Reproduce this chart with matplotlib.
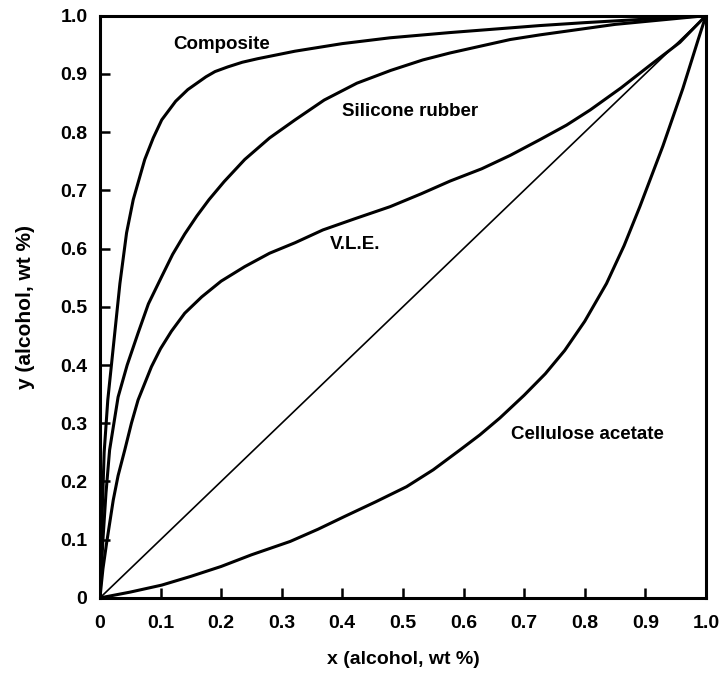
import numpy as np
import matplotlib
matplotlib.use("Agg")
import matplotlib.pyplot as plt

plt.rcParams['font.family'] = ['Liberation Sans', 'DejaVu Sans']
plt.rcParams['font.weight'] = 'bold'

# curves (x, y in weight fraction)
composite_x = [0, 0.003, 0.007, 0.013, 0.022, 0.033, 0.044, 0.055, 0.074, 0.088, 0.102, 0.125,
               0.145, 0.175, 0.19, 0.211, 0.235, 0.26, 0.322, 0.4, 0.479, 0.578, 0.677, 0.726,
               0.8, 0.9, 1.0]
composite_y = [0, 0.12, 0.25, 0.34, 0.43, 0.54, 0.627, 0.684, 0.753, 0.79, 0.821, 0.853,
               0.873, 0.895, 0.904, 0.912, 0.92, 0.926, 0.939, 0.952, 0.962, 0.971, 0.979, 0.983,
               0.988, 0.994, 1.0]

silicone_x = [0, 0.005, 0.01, 0.016, 0.03, 0.045, 0.063, 0.08, 0.102, 0.12, 0.14, 0.16, 0.18,
              0.205, 0.239, 0.28, 0.322, 0.37, 0.424, 0.48, 0.533, 0.578, 0.677, 0.726, 0.85, 1.0]
silicone_y = [0, 0.1, 0.18, 0.254, 0.345, 0.40, 0.455, 0.505, 0.552, 0.59, 0.625, 0.656, 0.684,
              0.715, 0.753, 0.79, 0.821, 0.855, 0.884, 0.906, 0.924, 0.936, 0.959, 0.967, 0.985, 1.0]

vle_x = [0, 0.005, 0.011, 0.022, 0.03, 0.041, 0.052, 0.063, 0.085, 0.1, 0.118, 0.14, 0.168,
         0.2, 0.239, 0.28, 0.322, 0.368, 0.42, 0.479, 0.53, 0.578, 0.63, 0.677, 0.726, 0.77,
         0.809, 0.86, 0.908, 0.957, 1.0]
vle_y = [0, 0.05, 0.094, 0.168, 0.21, 0.254, 0.30, 0.34, 0.397, 0.428, 0.458, 0.489, 0.517,
         0.544, 0.569, 0.592, 0.61, 0.632, 0.651, 0.672, 0.694, 0.716, 0.737, 0.76, 0.787, 0.812,
         0.838, 0.876, 0.915, 0.954, 1.0]

cellulose_x = [0, 0.05, 0.102, 0.15, 0.2, 0.25, 0.314, 0.36, 0.404, 0.455, 0.506, 0.55, 0.594,
               0.627, 0.66, 0.70, 0.735, 0.767, 0.80, 0.836, 0.865, 0.891, 0.929, 0.962, 0.987, 1.0]
cellulose_y = [0, 0.01, 0.022, 0.037, 0.054, 0.074, 0.097, 0.118, 0.14, 0.165, 0.191, 0.22, 0.254,
               0.28, 0.309, 0.348, 0.385, 0.425, 0.475, 0.54, 0.605, 0.672, 0.776, 0.875, 0.958, 1.0]

diag = [0, 1]

ticks = [0, 0.1, 0.2, 0.3, 0.4, 0.5, 0.6, 0.7, 0.8, 0.9, 1.0]
tick_labels = ['0', '0.1', '0.2', '0.3', '0.4', '0.5', '0.6', '0.7', '0.8', '0.9', '1.0']

fig = plt.figure(figsize=(7.24, 6.81), dpi=100)
ax = fig.add_axes([0.138, 0.122, 0.837, 0.855])

lw = 2.2
for xs, ys in [(composite_x, composite_y), (silicone_x, silicone_y),
               (vle_x, vle_y), (cellulose_x, cellulose_y)]:
    ax.plot(xs, ys, color='black', lw=lw, solid_joinstyle='round', solid_capstyle='round')
ax.plot(diag, diag, color='black', lw=1.2)

fs = 13.5
ax.text(0.201, 0.950, 'Composite', ha='center', va='center', fontsize=fs, fontweight='bold')
ax.text(0.512, 0.835, 'Silicone rubber', ha='center', va='center', fontsize=fs, fontweight='bold')
ax.text(0.421, 0.607, 'V.L.E.', ha='center', va='center', fontsize=fs, fontweight='bold')
ax.text(0.804, 0.280, 'Cellulose acetate', ha='center', va='center', fontsize=fs, fontweight='bold')

ax.set_xlim(0, 1)
ax.set_ylim(0, 1)
ax.set_xticks(ticks)
ax.set_xticklabels(tick_labels)
ax.set_yticks(ticks)
ax.set_yticklabels(tick_labels)
ax.tick_params(direction='in', length=7, width=1.8, labelsize=14, pad=12)
ax.tick_params(axis='y', pad=9)
for s in ax.spines.values():
    s.set_linewidth(2.2)

ax.set_xlabel('x (alcohol, wt %)', fontsize=14, fontweight='bold', labelpad=14)
ax.set_ylabel('y (alcohol, wt %)', fontsize=15, fontweight='bold', labelpad=18)

fig.savefig('out.png', dpi=100)
